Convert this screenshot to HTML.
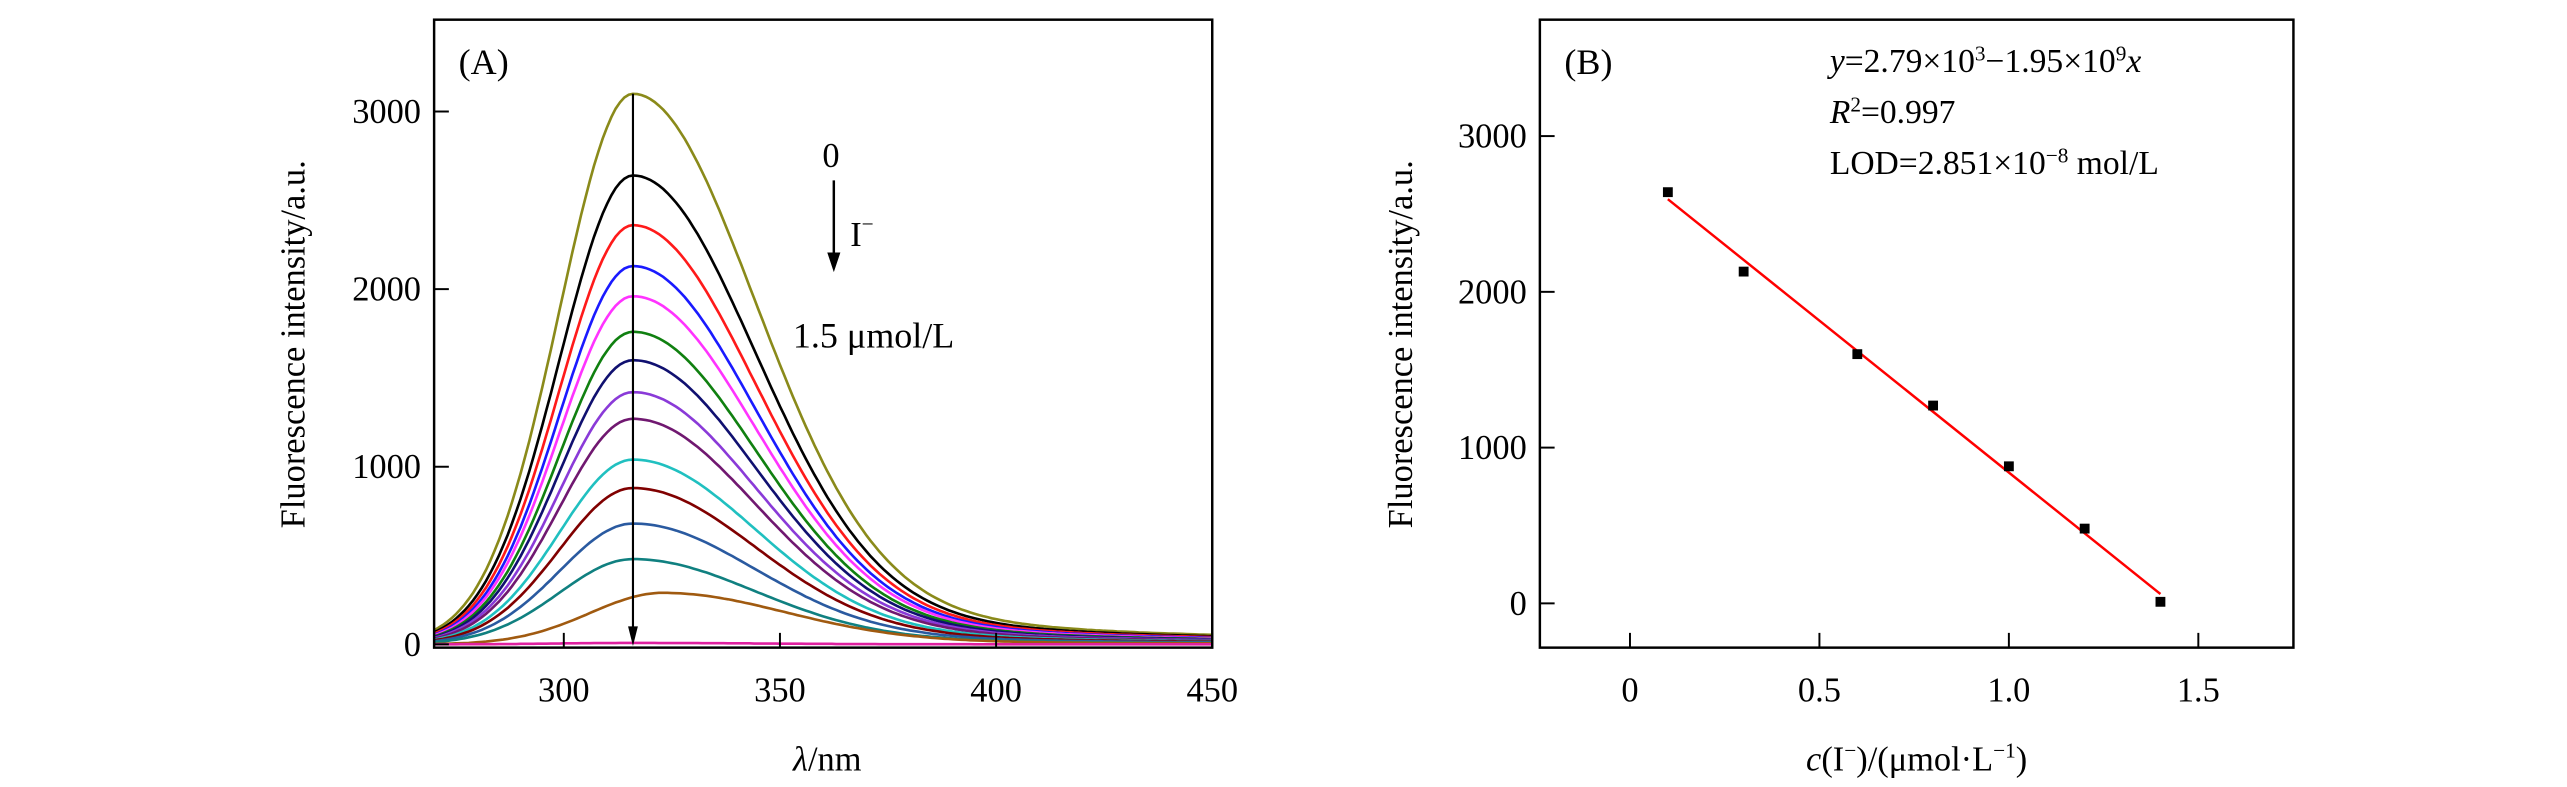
<!DOCTYPE html>
<html><head><meta charset="utf-8"><style>
html,body{margin:0;padding:0;background:#fff;}
svg{display:block;font-family:"Liberation Serif",serif;}
</style></head><body>
<svg id="fig" width="2567" height="787" viewBox="0 0 1567 480" preserveAspectRatio="none" xmlns="http://www.w3.org/2000/svg">
<g id="pa"></g>
<g id="pb"></g>
</svg>
<script>
// Panel A data
const peakValues = [3100, 2640, 2360, 2130, 1960, 1760, 1600, 1420, 1270, 1040, 880, 680, 480, 290, 8];
const peakWavelengths = [316, 316, 316, 316, 316, 316, 316, 316, 316, 316, 316, 316, 316, 323, 316];
const seriesColors = ["#8a8a1a","#000000","#ff1a1a","#1a1aff","#ff33ff","#108010","#101070","#8a3ad8","#701870","#20c0c0","#800000","#2a5aa0","#108080","#a05a10","#e020a0"];
const xTicksA = [300, 350, 400, 450];
const yTicksA = [0, 1000, 2000, 3000];
// Panel B data
const concValues = [0.1, 0.3, 0.6, 0.8, 1.0, 1.2, 1.4];
const intensityValues = [2640, 2130, 1600, 1270, 880, 480, 10];
const fitIntercept = 2790;
const fitSlope = -1950;
const xTicksB = [0, 0.5, 1.0, 1.5];
const xTickLabelsB = ["0", "0.5", "1.0", "1.5"];
const yTicksB = [0, 1000, 2000, 3000];

const NS = "http://www.w3.org/2000/svg";
function mk(parent, tag, attrs, text){
  const e = document.createElementNS(NS, tag);
  for (const k in attrs) e.setAttribute(k, attrs[k]);
  if (text !== undefined) e.textContent = text;
  parent.appendChild(e); return e;
}
// ---- Panel A ----
const A = {l:265, r:740, t:12, b:395};
const xA = v => A.l + (v - 270) / 180 * (A.r - A.l);
const yA = v => 393 - v * 0.10833;
const pa = document.getElementById('pa');
function shape(d){
  if (d <= 0) return Math.exp(-d*d/(2*17*17));
  return 0.88*Math.exp(-d*d/(2*28*28)) + 0.12/(1+(d/55)*(d/55));
}
peakValues.forEach((pk, i) => {
  let pts = [];
  for (let w = 270; w <= 450; w += 1) {
    pts.push(xA(w).toFixed(1) + "," + yA(pk * shape(w - peakWavelengths[i])).toFixed(1));
  }
  const p = mk(pa, 'polyline', {points: pts.join(' '), fill: 'none', stroke: seriesColors[i], 'stroke-width': 1.6});
  
  
});
let vl = mk(pa, 'line', {x1: xA(peakWavelengths[0]), x2: xA(peakWavelengths[0]), y1: yA(peakValues[0]), y2: 384, stroke: '#000', 'stroke-width': 1.3});


let vh = mk(pa, 'polygon', {points: `${xA(peakWavelengths[0])-3},382 ${xA(peakWavelengths[0])+3},382 ${xA(peakWavelengths[0])},394`, fill: '#000'});


let fa = mk(pa, 'rect', {x: A.l, y: A.t, width: A.r - A.l, height: A.b - A.t, fill: 'none', stroke: '#000', 'stroke-width': 1.5});


xTicksA.forEach(v => {
  const t = mk(pa, 'line', {x1: xA(v), x2: xA(v), y1: A.b, y2: A.b - 9, stroke: '#000', 'stroke-width': 1.2});
  
  
  const l = mk(pa, 'text', {x: xA(v), y: 428, 'font-size': 21, 'text-anchor': 'middle'}, String(v));
  
  
});
yTicksA.forEach(v => {
  const t = mk(pa, 'line', {x1: A.l, x2: A.l + 9, y1: yA(v), y2: yA(v), stroke: '#000', 'stroke-width': 1.2});
  
  
  const l = mk(pa, 'text', {x: A.l - 8, y: yA(v) + 7, 'font-size': 21, 'text-anchor': 'end'}, String(v));
  
  
});
// ---- Panel B ----
const B = {l:940, r:1400, t:12, b:395};
const xB = v => 995 + v * 231.3;
const yB = v => 368 - v * 0.095;
const pb = document.getElementById('pb');
let fl = mk(pb, 'line', {x1: xB(concValues[0]), y1: yB(fitIntercept + fitSlope*concValues[0]), x2: xB(concValues[concValues.length-1]), y2: yB(fitIntercept + fitSlope*concValues[concValues.length-1]), stroke: '#ff0000', 'stroke-width': 1.5});


concValues.forEach((c, i) => {
  const r = mk(pb, 'rect', {x: xB(c) - 3, y: yB(intensityValues[i]) - 3, width: 6, height: 6, fill: '#000'});
  
  
});
let fb = mk(pb, 'rect', {x: B.l, y: B.t, width: B.r - B.l, height: B.b - B.t, fill: 'none', stroke: '#000', 'stroke-width': 1.5});


xTicksB.forEach((v, i) => {
  const t = mk(pb, 'line', {x1: xB(v), x2: xB(v), y1: B.b, y2: B.b - 9, stroke: '#000', 'stroke-width': 1.2});
  
  
  const l = mk(pb, 'text', {x: xB(v), y: 428, 'font-size': 21, 'text-anchor': 'middle'}, xTickLabelsB[i]);
  
  
});
yTicksB.forEach(v => {
  const t = mk(pb, 'line', {x1: B.l, x2: B.l + 9, y1: yB(v), y2: yB(v), stroke: '#000', 'stroke-width': 1.2});
  
  
  const l = mk(pb, 'text', {x: B.l - 8, y: yB(v) + 7, 'font-size': 21, 'text-anchor': 'end'}, String(v));
  
  
});
</script>
<svg width="2567" height="787" viewBox="0 0 1567 480" preserveAspectRatio="none" style="position:absolute;left:0;top:0">
<g font-family="Liberation Serif, serif" fill="#000">
<text x="280" y="45" font-size="22">(A)</text>
<text x="502" y="102" font-size="21">0</text>
<line x1="509" y1="110" x2="509" y2="155" stroke="#000" stroke-width="1.5"/>
<polygon points="505,154 513,154 509,166" fill="#000"/>
<text x="519" y="150" font-size="21">I<tspan dy="-9" font-size="13">−</tspan></text>
<text x="484" y="212" font-size="22">1.5 μmol/L</text>
<text transform="translate(186,210) rotate(-90)" text-anchor="middle" font-size="21">Fluorescence intensity/a.u.</text>
<text x="505" y="470" text-anchor="middle" font-size="21"><tspan font-style="italic">λ</tspan>/nm</text>
<text x="955" y="45" font-size="22">(B)</text>
<text x="1117" y="44" font-size="20.5"><tspan font-style="italic">y</tspan>=2.79×10<tspan dy="-7" font-size="13">3</tspan><tspan dy="7">−1.95×10</tspan><tspan dy="-7" font-size="13">9</tspan><tspan dy="7" font-style="italic">x</tspan></text>
<text x="1117" y="75" font-size="20.5"><tspan font-style="italic">R</tspan><tspan dy="-7" font-size="13">2</tspan><tspan dy="7">=0.997</tspan></text>
<text x="1117" y="106" font-size="20.5">LOD=2.851×10<tspan dy="-7" font-size="13">−8</tspan><tspan dy="7"> mol/L</tspan></text>
<text transform="translate(862,210) rotate(-90)" text-anchor="middle" font-size="21">Fluorescence intensity/a.u.</text>
<text x="1170" y="470" text-anchor="middle" font-size="21"><tspan font-style="italic">c</tspan>(I<tspan dy="-8" font-size="13">−</tspan><tspan dy="8">)/(μmol·L</tspan><tspan dy="-8" font-size="13">−1</tspan><tspan dy="8">)</tspan></text>
</g>
</svg>
</body></html>
